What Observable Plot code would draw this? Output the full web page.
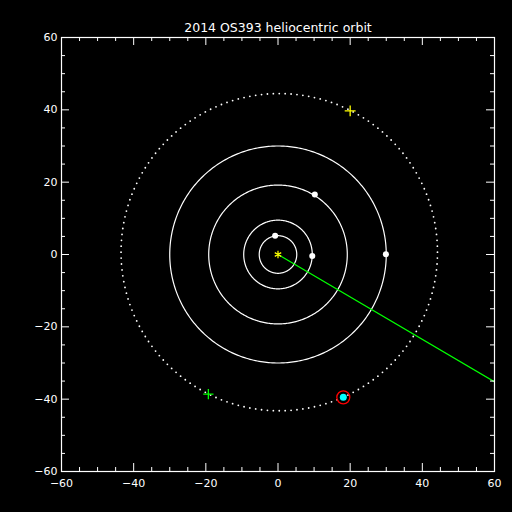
<!DOCTYPE html>
<html>
<head>
<meta charset="utf-8">
<script src="https://cdn.jsdelivr.net/npm/d3@7"></script>
<script src="https://cdn.jsdelivr.net/npm/@observablehq/plot@0.6"></script>
<style>
  html, body { margin: 0; padding: 0; background: #000; }
</style>
</head>
<body>
<div id="chart"></div>
<script>
const title = "2014 OS393 heliocentric orbit";
const planetNames = ["Jupiter", "Saturn", "Uranus", "Neptune"];
const orbitRadii = [5.2, 9.5, 19.2, 30.0];
const planetX = [-0.8, 9.5, 10.2, 29.9];
const planetY = [5.2, -0.4, 16.6, 0.1];
// 2014 OS393 orbit
const kboCenter = [0.35, 0.65];
const kboRadius = [43.85, 43.85];
const kboNow = [18.1, -39.5];
const yellowPlus = [20.0, 39.7];
const greenPlus = [-19.3, -38.6];
const lineEnd = [60, -35.2];
const majorTicks = [-60, -40, -20, 0, 20, 40, 60];
const minorTicks = d3.range(-55, 60, 5).filter(v => v % 20 !== 0);

const N = 360;
const circlePts = orbitRadii.flatMap((r, i) =>
  d3.range(N + 1).map(k => ({orbit: planetNames[i], x: r * Math.cos(2 * Math.PI * k / N), y: r * Math.sin(2 * Math.PI * k / N)})));
const M = 168;
const kboPts = d3.range(M).map(k => ({
  x: kboCenter[0] + kboRadius[0] * Math.cos(2 * Math.PI * k / M),
  y: kboCenter[1] + kboRadius[1] * Math.sin(2 * Math.PI * k / M)
}));
const planets = planetNames.map((n, i) => ({name: n, x: planetX[i], y: planetY[i]}));

const W = 512, H = 512, mL = 61, mR = 18, mT = 37, mB = 41;
const fw = W - mL - mR, fh = H - mT - mB;
const inner = majorTicks.filter(v => Math.abs(v) < 60);

const chart = Plot.plot({
  width: W, height: H,
  marginLeft: mL, marginRight: mR, marginTop: mT, marginBottom: mB,
  x: {domain: [-60, 60]},
  y: {domain: [-60, 60]},
  style: {background: "#000", color: "#fff", fontFamily: "DejaVu Sans", fontSize: "11px"},
  marks: [
    Plot.line(circlePts, {x: "x", y: "y", z: "orbit", stroke: "#fff", strokeWidth: 1.2}),
    Plot.dot(kboPts, {x: "x", y: "y", r: 0.9, fill: "#fff", stroke: null}),
    Plot.line([[0, 0], lineEnd], {x: d => d[0], y: d => d[1], stroke: "#00ff00", strokeWidth: 1.2, clip: true}),
    Plot.dot(planets, {x: "x", y: "y", r: 3, fill: "#fff"}),
    Plot.dot([[0, 0]], {x: d => d[0], y: d => d[1], symbol: "asterisk", r: 3.5, stroke: "#ffff00", strokeWidth: 1.2}),
    Plot.dot([yellowPlus], {x: d => d[0], y: d => d[1], symbol: "plus", r: 3.6, stroke: "#ffff00", strokeWidth: 1.3}),
    Plot.dot([greenPlus], {x: d => d[0], y: d => d[1], symbol: "plus", r: 3.4, stroke: "#00ff00", strokeWidth: 1.3}),
    Plot.dot([kboNow], {x: d => d[0], y: d => d[1], r: 3.5, fill: "#00ffff"}),
    Plot.dot([kboNow], {x: d => d[0], y: d => d[1], r: 6.5, stroke: "#ff0000", strokeWidth: 1.3, fill: "none"}),
    Plot.frame({stroke: "#fff", strokeWidth: 1.2}),
    // ticks on all four sides, inward
    Plot.tickX(inner, {x: d => d, insetTop: fh - 8, stroke: "#fff"}),
    Plot.tickX(inner, {x: d => d, insetBottom: fh - 8, stroke: "#fff"}),
    Plot.tickX(minorTicks, {x: d => d, insetTop: fh - 4, stroke: "#fff"}),
    Plot.tickX(minorTicks, {x: d => d, insetBottom: fh - 4, stroke: "#fff"}),
    Plot.tickY(inner, {y: d => d, insetRight: fw - 8, stroke: "#fff"}),
    Plot.tickY(inner, {y: d => d, insetLeft: fw - 8, stroke: "#fff"}),
    Plot.tickY(minorTicks, {y: d => d, insetRight: fw - 4, stroke: "#fff"}),
    Plot.tickY(minorTicks, {y: d => d, insetLeft: fw - 4, stroke: "#fff"}),
    Plot.axisX({anchor: "bottom", ticks: majorTicks, tickSize: 0, tickPadding: 8, label: null, fill: "#fff"}),
    Plot.axisY({anchor: "left", ticks: majorTicks, tickSize: 0, tickPadding: 4, label: null, fill: "#fff"}),
    Plot.text([title], {text: d => d, frameAnchor: "top", dy: -14, fill: "#fff", fontSize: 12.5})
  ]
});
document.getElementById("chart").appendChild(chart);
</script>
</body>
</html>
